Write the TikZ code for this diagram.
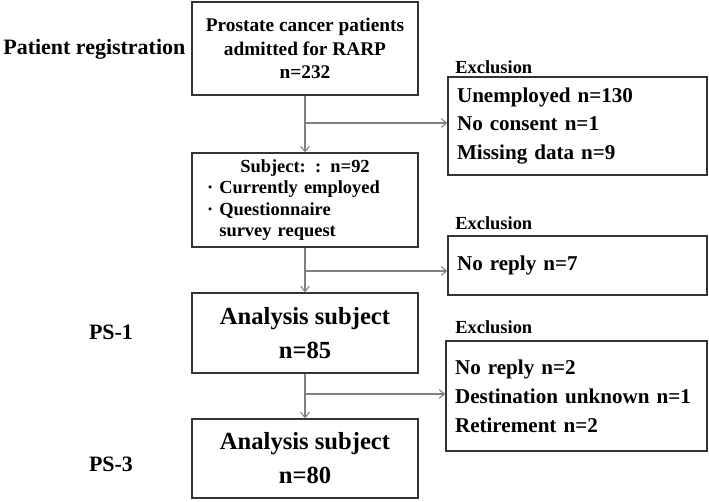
\documentclass[tikz,border=0pt]{standalone}
\usepackage{fontspec}
\setmainfont{Liberation Serif}
\usetikzlibrary{arrows.meta}

\begin{document}
\begin{tikzpicture}[x=0.02cm, y=-0.02cm,
            box/.style={draw=black!80, line width=0.8pt, minimum width=4.52cm, inner sep=0pt},
            result/.style={box, align=center, font=\fontsize{14}{19.3}\selectfont\bfseries},
            exbox/.style={draw=black!80, line width=0.8pt, text width=4.82cm, inner xsep=0.18cm, inner ysep=0pt, align=left, font=\fontsize{12}{16.4}\selectfont\bfseries},
            tag/.style={anchor=west, inner sep=0pt, font=\fontsize{10.5}{12}\selectfont\bfseries},
            side/.style={inner sep=0pt, font=\fontsize{12.5}{14}\selectfont\bfseries},
            flow/.style={draw=black!50, line width=0.6pt, -{Straight Barb[length=3pt, width=5pt]}}]
            \useasboundingbox (0,0) rectangle (709,501);
            \node[box, minimum height=1.86cm, align=center, font=\fontsize{11}{13.3}\selectfont\bfseries] (reg) at (305,48.5) {Prostate cancer patients\\admitted for RARP\\n=232};
            \node[box, minimum height=1.88cm, text width=3.92cm, inner xsep=0.3cm, align=left, font=\fontsize{10.5}{12.2}\selectfont\bfseries] (subj) at (305,200) {\makebox[3.92cm][c]{Subject: : n=92}\\· Currently employed\\· Questionnaire\\\phantom{· }survey request};
            \node[result, minimum height=1.6cm] (ps1) at (305,333) {Analysis subject\\n=85};
            \node[result, minimum height=1.58cm] (ps3) at (305,458.5) {Analysis subject\\n=80};
            \node[exbox, minimum height=1.96cm] (ex1) at (577.5,126) {Unemployed n=130\\No consent n=1\\Missing data n=9};
            \node[exbox, minimum height=1.18cm] (ex2) at (577.5,265.5) {No reply n=7};
            \node[exbox, minimum height=2.2cm, text width=4.86cm] (ex3) at (576.5,396) {No reply n=2\\Destination unknown n=1\\Retirement n=2};
            \node[tag] (ex1tag) at (455,67) {Exclusion};
            \node[tag] (ex2tag) at (455,223) {Exclusion};
            \node[tag] (ex3tag) at (455,327) {Exclusion};
            \node[side, anchor=west] (regtag) at (3,49) {Patient registration};
            \node[side] (ps1tag) at (111,332) {PS-1};
            \node[side] (ps3tag) at (111,464) {PS-3};
            \coordinate (split1) at (305,123);
            \coordinate (split2) at (305,271);
            \coordinate (split3) at (305,394);
            \draw[flow] (reg) -- (subj);
            \draw[flow] (split1) -- (split1 -| ex1.west);
            \draw[flow] (subj) -- (ps1);
            \draw[flow] (split2) -- (split2 -| ex2.west);
            \draw[flow] (ps1) -- (ps3);
            \draw[flow] (split3) -- (split3 -| ex3.west);
        \end{tikzpicture}
\end{document}
